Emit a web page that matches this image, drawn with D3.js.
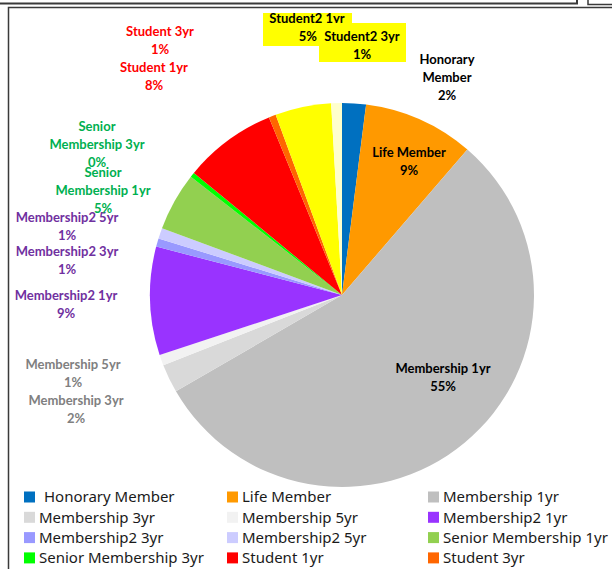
<!DOCTYPE html>
<html>
<head>
<meta charset="utf-8">
<script src="https://cdn.jsdelivr.net/npm/d3@7"></script>
<style>
  body { margin: 0; background: #fff; }
  svg { display: block; }
</style>
</head>
<body>
<svg id="chart" width="612" height="569"></svg>
<script>
// membership types, clockwise from 12 o'clock
const categories = [
  'Honorary Member', 'Life Member', 'Membership 1yr', 'Membership 3yr',
  'Membership 5yr', 'Membership2 1yr', 'Membership2 3yr', 'Membership2 5yr',
  'Senior Membership 1yr', 'Senior Membership 3yr', 'Student 1yr',
  'Student 3yr', 'Student2 1yr', 'Student2 3yr',
];
// share of members (%)
const shares = [2.0, 9.3, 55.2, 2.4, 0.9, 9.1, 0.7, 0.9, 4.9, 0.4, 7.8, 0.6, 4.7, 0.9];
const colors = [
  '#0070C0', '#FF9900', '#BFBFBF', '#D9D9D9', '#F2F2F2', '#9933FF', '#9999FF',
  '#CCCCFF', '#92D050', '#00FF00', '#FF0000', '#FF6600', '#FFFF00', '#FFFFCC',
];
// data label lines as they are broken in the chart
const labelLines = [
  ['Honorary', 'Member'], ['Life Member'], ['Membership 1yr'], ['Membership 3yr'],
  ['Membership 5yr'], ['Membership2 1yr'], ['Membership2 3yr'], ['Membership2 5yr'],
  ['Senior', 'Membership 1yr'], ['Senior', 'Membership 3yr'], ['Student 1yr'],
  ['Student 3yr'], ['Student2 1yr'], ['Student2 3yr'],
];
// legend shows only the first 12 entries (rest cut off)
const legendCount = 12;

// label layout (hand placed like in the sheet): x, first line y, colour
const labelPos = [
  { x: 447, y: 59, c: '#000' },
  { x: 409, y: 152, c: '#000' },
  { x: 443, y: 368, c: '#000' },
  { x: 76, y: 400, c: '#808080' },
  { x: 73, y: 364, c: '#808080' },
  { x: 66, y: 295, c: '#7030A0' },
  { x: 67, y: 251, c: '#7030A0' },
  { x: 67, y: 217, c: '#7030A0' },
  { x: 103, y: 172, c: '#00B050' },
  { x: 97, y: 126, c: '#00B050' },
  { x: 154, y: 67, c: '#FF0000' },
  { x: 160, y: 31, c: '#FF0000' },
  { x: 307, y: 18, c: '#000', box: [263, 13, 89, 33], pctX: 317 },
  { x: 362, y: 36, c: '#000', box: [319, 23, 87, 39] },
];

const svg = d3.select('#chart');
const font = 'Lato, "Liberation Sans", sans-serif';

// frame bits around the chart area
const frame = svg.append('g').attr('fill', 'none').attr('stroke', '#3a3a3a');
frame.append('path').attr('d', 'M0,3.5H577V0').attr('stroke-width', 2);
frame.append('path').attr('d', 'M612,4.5H588V0').attr('stroke-width', 1.5);
frame.append('path').attr('d', 'M8.5,569V7.5H612').attr('stroke-width', 1.5);

const cx = 342, cy = 295, r = 192;
const pie = d3.pie().sort(null).value(d => d);
const arc = d3.arc().innerRadius(0).outerRadius(r);
const arcs = pie(shares);
const total = d3.sum(shares);

svg.append('g')
  .attr('transform', `translate(${cx},${cy})`)
  .selectAll('path')
  .data(arcs)
  .join('path')
  .attr('d', arc)
  .attr('fill', (d, i) => colors[i]);

// data labels
const labels = svg.append('g')
  .attr('font-family', font)
  .attr('font-weight', 'bold')
  .attr('font-size', 13)
  .attr('text-anchor', 'middle');

arcs.forEach((d, i) => {
  const p = labelPos[i];
  const pct = Math.round((d.value / total) * 100) + '%';
  if (p.box) {
    labels.append('rect')
      .attr('x', p.box[0]).attr('y', p.box[1])
      .attr('width', p.box[2]).attr('height', p.box[3])
      .attr('fill', '#FFFF00');
  }
  const lines = labelLines[i].concat([pct]);
  lines.forEach((t, j) => {
    const isPct = j == lines.length - 1;
    labels.append('text')
      .attr('x', isPct && p.pctX ? p.pctX : p.x)
      .attr('y', p.y + j * 18)
      .attr('dy', '0.35em')
      .attr('fill', p.c)
      .attr('text-anchor', isPct && p.pctX ? 'end' : 'middle')
      .text(t);
  });
});

// legend
const legendX = [24, 227, 428];
const legend = svg.append('g')
  .attr('font-family', '"Noto Sans", sans-serif')
  .attr('font-size', 15);

categories.slice(0, legendCount).forEach((name, i) => {
  const col = i % 3, row = Math.floor(i / 3);
  const y = 497 + row * 20.3;
  const g = legend.append('g').attr('transform', `translate(${legendX[col]},${y})`);
  g.append('rect').attr('x', 0).attr('y', -5.5).attr('width', 11).attr('height', 11)
    .attr('fill', colors[i]);
  g.append('text')
    .attr('x', i == 0 ? 20 : 15)
    .attr('dy', '0.35em')
    .attr('fill', '#1a1a1a')
    .text(name);
});
</script>
</body>
</html>
